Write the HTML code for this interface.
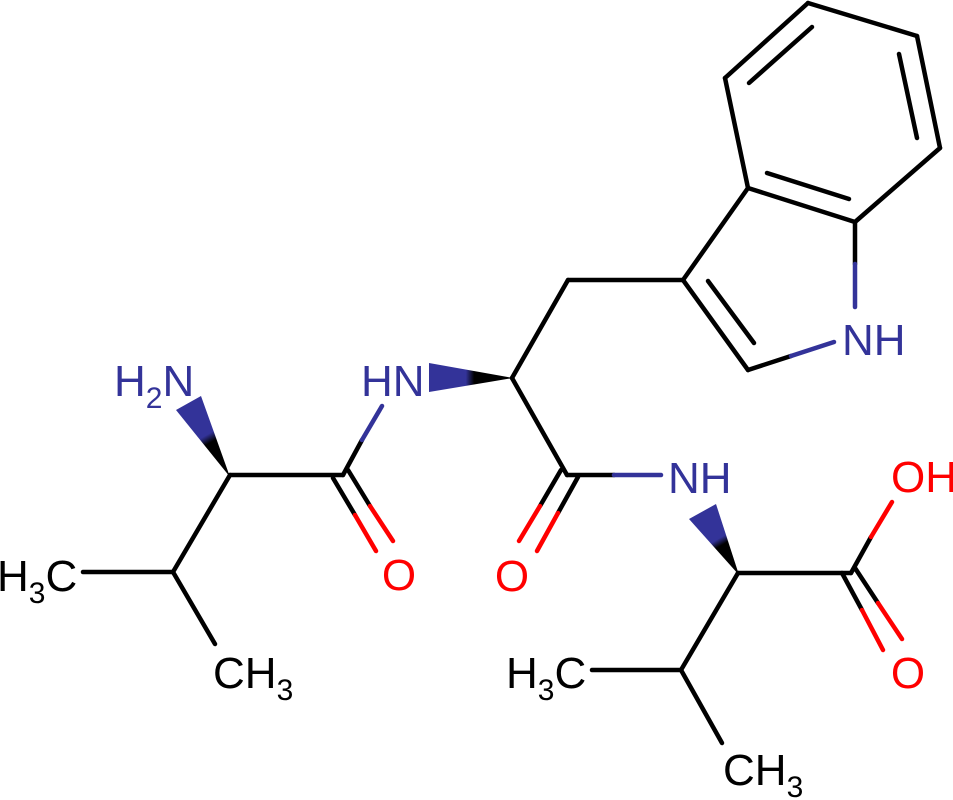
<!DOCTYPE html>
<html><head><meta charset="utf-8"><style>
html,body{margin:0;padding:0;background:#fff;width:953px;height:800px;overflow:hidden}
svg{display:block}
text{font-family:"Liberation Sans",Arial,sans-serif;font-size:44px}
.b{fill:#333399}.r{fill:#ff0000}.k{fill:#000}
</style></head><body>
<svg width="953" height="800" viewBox="0 0 953 800" xmlns="http://www.w3.org/2000/svg">
<defs>
<linearGradient id="w1" gradientUnits="userSpaceOnUse" x1="230" y1="475" x2="188" y2="402"><stop offset="0.45" stop-color="#000"/><stop offset="0.55" stop-color="#333399"/></linearGradient>
<linearGradient id="w2" gradientUnits="userSpaceOnUse" x1="512" y1="378" x2="428" y2="377"><stop offset="0.45" stop-color="#000"/><stop offset="0.55" stop-color="#333399"/></linearGradient>
<linearGradient id="w3" gradientUnits="userSpaceOnUse" x1="738" y1="573" x2="702" y2="511"><stop offset="0.45" stop-color="#000"/><stop offset="0.55" stop-color="#333399"/></linearGradient>
</defs>
<g stroke="#000" stroke-width="4.5" stroke-linecap="round" fill="none">
<line x1="230" y1="475" x2="173" y2="572"/>
<line x1="173" y1="572" x2="83" y2="572"/>
<line x1="173" y1="572" x2="215" y2="644"/>
<line x1="230" y1="475" x2="343" y2="475"/>
<line x1="343" y1="475" x2="362" y2="440"/>
<line x1="362" y1="440" x2="382" y2="406" stroke="#333399"/>
<line x1="333" y1="478" x2="355" y2="515"/>
<line x1="355" y1="515" x2="376" y2="551" stroke="#f00"/>
<line x1="348" y1="470" x2="370" y2="506"/>
<line x1="370" y1="506" x2="393" y2="541" stroke="#f00"/>
<line x1="512" y1="378" x2="568" y2="280"/>
<line x1="512" y1="378" x2="567" y2="475"/>
<line x1="567" y1="475" x2="614" y2="475"/>
<line x1="614" y1="475" x2="661" y2="475" stroke="#333399"/>
<line x1="561" y1="470" x2="540" y2="506"/>
<line x1="540" y1="506" x2="519" y2="541" stroke="#f00"/>
<line x1="578" y1="477" x2="558" y2="513"/>
<line x1="558" y1="513" x2="537" y2="551" stroke="#f00"/>
<line x1="738" y1="573" x2="681" y2="670"/>
<line x1="681" y1="670" x2="592" y2="670"/>
<line x1="681" y1="670" x2="722" y2="743"/>
<line x1="738" y1="573" x2="851" y2="573"/>
<line x1="851" y1="573" x2="871" y2="537"/>
<line x1="871" y1="537" x2="892" y2="502" stroke="#f00"/>
<line x1="842" y1="573" x2="862" y2="610"/>
<line x1="862" y1="610" x2="883" y2="650" stroke="#f00"/>
<line x1="855" y1="568" x2="878" y2="603"/>
<line x1="878" y1="603" x2="902" y2="639" stroke="#f00"/>
<line x1="568" y1="280" x2="683" y2="280"/>
<line x1="683" y1="280" x2="748" y2="370"/>
<line x1="708" y1="281" x2="754" y2="343"/>
<line x1="748" y1="370" x2="791" y2="356"/>
<line x1="791" y1="356" x2="834" y2="342" stroke="#333399"/>
<line x1="855" y1="222" x2="855" y2="264"/>
<line x1="855" y1="264" x2="855" y2="307" stroke="#333399"/>
<line x1="683" y1="280" x2="748" y2="188"/>
<line x1="748" y1="188" x2="855" y2="222"/>
<line x1="767" y1="173" x2="849" y2="199"/>
<line x1="748" y1="188" x2="725" y2="78"/>
<line x1="725" y1="78" x2="808" y2="3"/>
<line x1="749" y1="83" x2="812" y2="27"/>
<line x1="808" y1="3" x2="917" y2="36"/>
<line x1="917" y1="36" x2="940" y2="148"/>
<line x1="899" y1="54" x2="917" y2="138"/>
<line x1="940" y1="148" x2="855" y2="222"/>
</g>
<polygon points="230,477 176,410 201,396" fill="url(#w1)"/>
<polygon points="513,378 429,363 429,392" fill="url(#w2)"/>
<polygon points="739,575 689,519 716,504" fill="url(#w3)"/>
<text class="b" x="114" y="396">H<tspan font-size="30" dy="12">2</tspan><tspan dy="-12">N</tspan></text>
<text class="b" x="361" y="396">HN</text>
<text class="b" x="668" y="493">NH</text>
<text class="b" x="842" y="355">NH</text>
<text class="r" x="891" y="492">OH</text>
<text class="r" x="399" y="590" text-anchor="middle">O</text>
<text class="r" x="512" y="591" text-anchor="middle">O</text>
<text class="r" x="908" y="688" text-anchor="middle">O</text>
<text class="k" x="-3" y="591">H<tspan font-size="30" dy="12">3</tspan><tspan dy="-12">C</tspan></text>
<text class="k" x="213" y="688">CH<tspan font-size="30" dy="12">3</tspan></text>
<text class="k" x="506" y="688">H<tspan font-size="30" dy="12">3</tspan><tspan dy="-12">C</tspan></text>
<text class="k" x="723" y="785">CH<tspan font-size="30" dy="12">3</tspan></text>
</svg>
</body></html>
